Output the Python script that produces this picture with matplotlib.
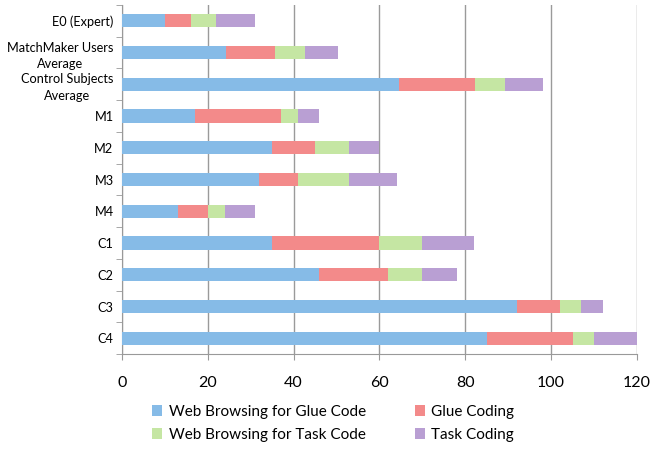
import matplotlib
matplotlib.use("Agg")
import matplotlib.pyplot as plt
import numpy as np

plt.rcParams['font.family'] = ['Lato', 'DejaVu Sans']

categories = ["E0 (Expert)", "MatchMaker Users\nAverage", "Control Subjects\nAverage",
              "M1", "M2", "M3", "M4", "C1", "C2", "C3", "C4"]
web_glue = [10, 24.25, 64.5, 17, 35, 32, 13, 35, 46, 92, 85]
glue_coding = [6, 11.5, 17.75, 20, 10, 9, 7, 25, 16, 10, 20]
web_task = [6, 7, 7, 4, 8, 12, 4, 10, 8, 5, 5]
task_coding = [9, 7.5, 8.75, 5, 7, 11, 7, 12, 8, 5, 10]

series = [("Web Browsing for Glue Code", web_glue, "#86BBE7"),
          ("Glue Coding", glue_coding, "#F38A8A"),
          ("Web Browsing for Task Code", web_task, "#C5E6A3"),
          ("Task Coding", task_coding, "#B99FD3")]

fig = plt.figure(figsize=(6.52, 4.5), dpi=100)
ax = fig.add_axes([0.187, 0.213, 0.79, 0.776])

y = np.arange(len(categories))
left = np.zeros(len(categories))
bars = []
for name, vals, col in series:
    b = ax.barh(y, vals, left=left, height=0.42, color=col, label=name, zorder=3)
    bars.append(b)
    left += np.array(vals)

ax.set_xlim(0, 120)
ax.set_ylim(len(categories) - 0.5, -0.5)
ax.set_xticks(range(0, 121, 20))
ax.set_yticks(y)
ax.set_yticklabels(categories, fontsize=9.2, linespacing=1.45, multialignment='center')
ax.set_yticks(np.arange(-0.5, len(categories), 1), minor=True)
ax.tick_params(axis='y', which='major', length=0, pad=6)
ax.tick_params(axis='y', which='minor', length=4, color='#999999')
ax.tick_params(axis='x', length=4, color='#999999', labelsize=11.5, pad=12)
ax.xaxis.grid(True, color='#9a9a9a', linewidth=1, zorder=0)

for s in ['top', 'right']:
    ax.spines[s].set_visible(False)
for s in ['left', 'bottom']:
    ax.spines[s].set_color('#999999')

# legend fills row by row like the original
order = [0, 2, 1, 3]
ax.legend([bars[i] for i in order], [series[i][0] for i in order],
          loc='upper center', bbox_to_anchor=(0.41, -0.105), ncol=2, frameon=False,
          fontsize=11, handlelength=0.7, handleheight=0.7, handletextpad=0.4,
          columnspacing=3.2, labelspacing=0.6)

fig.savefig("out.png", dpi=100)
